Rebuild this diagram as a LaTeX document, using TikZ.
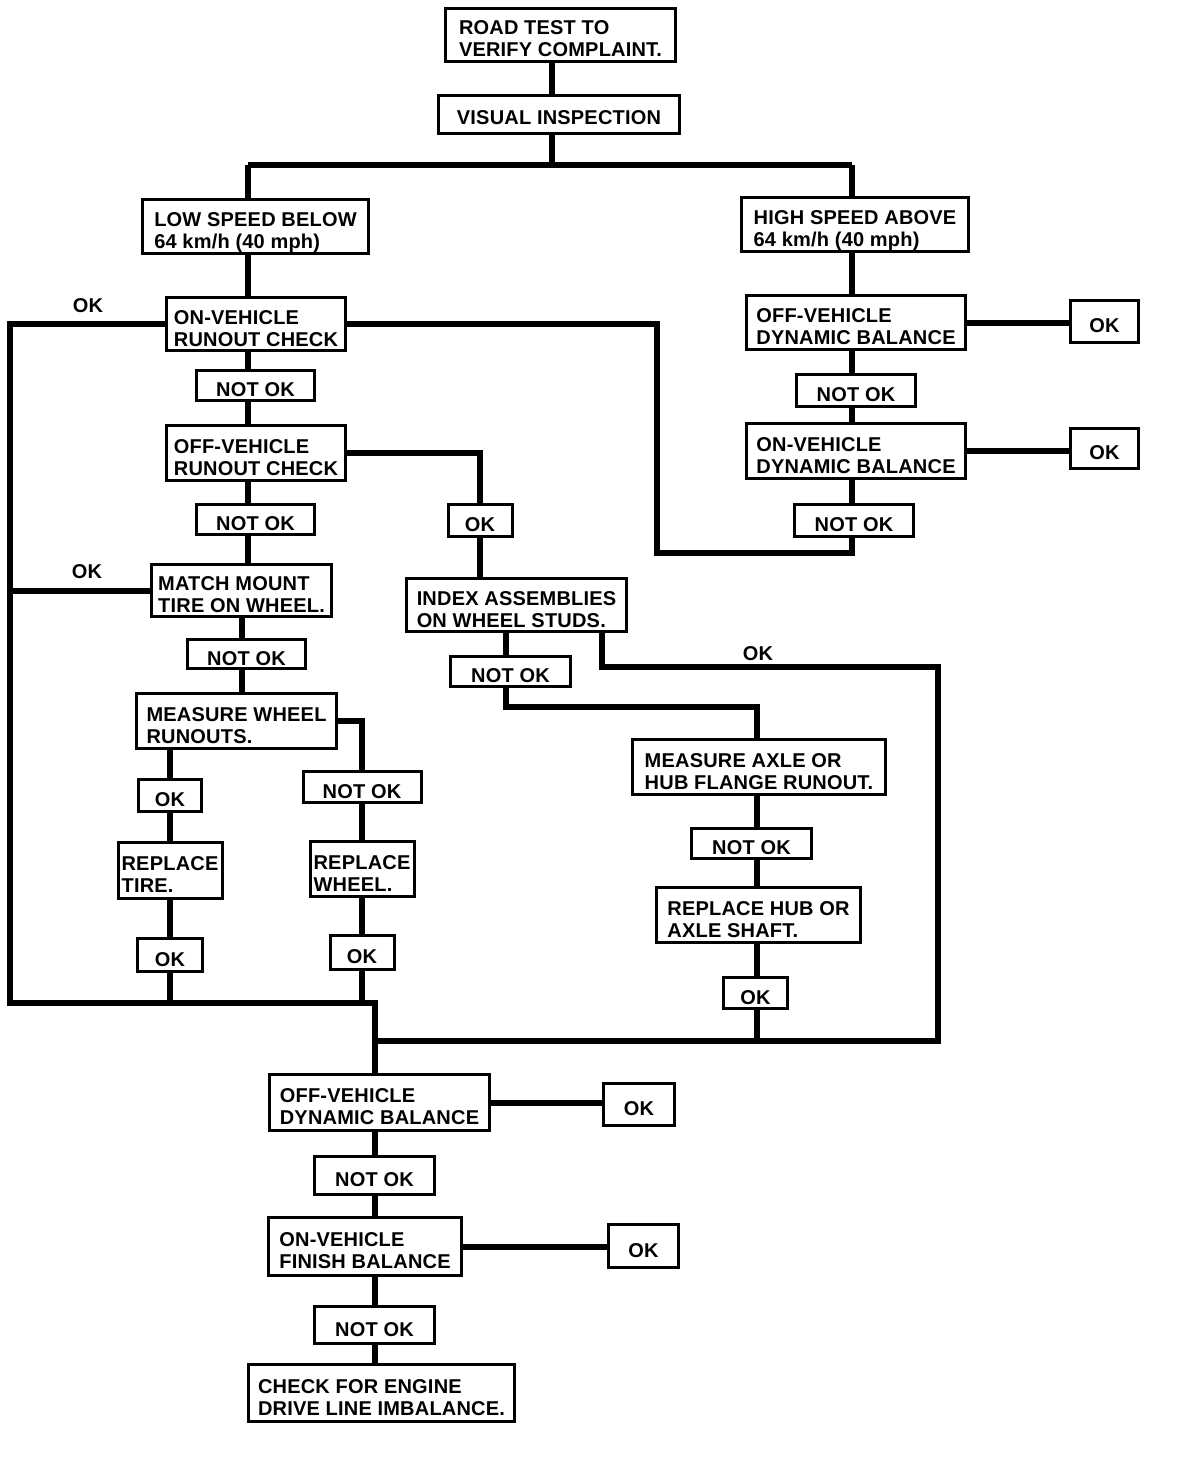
\documentclass[tikz,border=0pt]{standalone}
\usepackage{fontspec}
\setmainfont{Liberation Sans}[LetterSpace=1]
\usepackage{tikz}
\usetikzlibrary{positioning,calc}
\newcommand{\chartfont}{\fontsize{20}{22}\selectfont\bfseries}
\tikzset{
  check/.style={draw, line width=3pt, align=left, inner sep=0pt, fill=white, font=\chartfont,
    text height=46pt, text depth=2pt},
  result/.style={draw, line width=3pt, align=center, inner sep=0pt, fill=white, font=\chartfont,
    text height=22pt, text depth=0pt},
  note/.style={inner sep=0pt, font=\chartfont},
  flow/.style={line width=6pt},
}
\begin{document}
\begin{tikzpicture}[x=1pt,y=1pt]
  \path[fill=white] (0,0) rectangle (1184,-1472);

  % Top of the chart
  \node[check, minimum width=230pt, minimum height=53pt] (road)   at (560.5,-35)  {ROAD TEST TO\\VERIFY COMPLAINT.};
  \node[check, minimum width=241pt, minimum height=38pt, text height=20pt, text depth=0pt] (visual) at (559,-114.5) {VISUAL INSPECTION};
  \node[check, minimum width=226pt, minimum height=54pt] (low)    at (255.5,-226.5) {LOW SPEED BELOW\\64 km/h (40 mph)};
  \node[check, minimum width=227pt, minimum height=54pt] (high)   at (855,-224.5) {HIGH SPEED ABOVE\\64 km/h (40 mph)};

  % Low speed branch
  \node[check, minimum width=179pt, minimum height=53pt] (onrun)  at (256,-324)   {ON-VEHICLE\\RUNOUT CHECK};
  \node[result, minimum width=118pt, minimum height=30pt] (notok1) at (255.5,-385.5) {NOT OK};
  \node[check, minimum width=179pt, minimum height=55pt] (offrun) at (256,-453)   {OFF-VEHICLE\\RUNOUT CHECK};
  \node[result, minimum width=118pt, minimum height=30pt] (notok2) at (255.5,-519.5) {NOT OK};
  \node[check, minimum width=180pt, minimum height=52pt] (match)  at (241.5,-590.5) {MATCH MOUNT\\TIRE ON WHEEL.};
  \node[result, minimum width=118pt, minimum height=29pt] (notok3) at (246.5,-654) {NOT OK};
  \node[check, minimum width=200pt, minimum height=55pt] (wheel)  at (236.5,-721) {MEASURE WHEEL\\RUNOUTS.};
  \node[result, minimum width=63pt, minimum height=32pt] (oktire1) at (170,-795.5) {OK};
  \node[check, minimum width=104pt, minimum height=56pt] (tire)   at (170,-870.5) {REPLACE\\TIRE.};
  \node[result, minimum width=65pt, minimum height=33pt] (oktire2) at (170,-955)  {OK};
  \node[result, minimum width=118pt, minimum height=31pt] (notok4) at (362,-787)  {NOT OK};
  \node[check, minimum width=104pt, minimum height=55pt] (rim)    at (362,-869)   {REPLACE\\WHEEL.};
  \node[result, minimum width=64pt, minimum height=34pt] (okrim)  at (362,-952.5) {OK};

  % Index and hub branch
  \node[result, minimum width=64pt, minimum height=32pt] (okindex) at (480,-520.5) {OK};
  \node[check, minimum width=220pt, minimum height=53pt] (index)  at (516.5,-605) {INDEX ASSEMBLIES\\ON WHEEL STUDS.};
  \node[result, minimum width=120pt, minimum height=30pt] (notok5) at (510.5,-671.5) {NOT OK};
  \node[check, minimum width=253pt, minimum height=55pt] (axle)   at (759,-767)   {MEASURE AXLE OR\\HUB FLANGE RUNOUT.};
  \node[result, minimum width=120pt, minimum height=30pt] (notok6) at (751.5,-843.5) {NOT OK};
  \node[check, minimum width=204pt, minimum height=55pt] (hub)    at (758.5,-915) {REPLACE HUB OR\\AXLE SHAFT.};
  \node[result, minimum width=64pt, minimum height=31pt] (okhub)  at (755.5,-993) {OK};

  % High speed branch
  \node[check, minimum width=219pt, minimum height=54pt] (offdyn) at (856,-322.5) {OFF-VEHICLE\\DYNAMIC BALANCE};
  \node[result, minimum width=68pt, minimum height=42pt] (okoff)  at (1104.5,-321.5) {OK};
  \node[result, minimum width=119pt, minimum height=32pt] (notok9) at (856,-390.5) {NOT OK};
  \node[check, minimum width=219pt, minimum height=55pt] (ondyn)  at (856,-451)   {ON-VEHICLE\\DYNAMIC BALANCE};
  \node[result, minimum width=68pt, minimum height=40pt] (okon)   at (1104.5,-448.5) {OK};
  \node[result, minimum width=119pt, minimum height=32pt] (notok10) at (854,-520.5) {NOT OK};

  % Final balance
  \node[check, minimum width=220pt, minimum height=56pt] (offbal) at (379.5,-1102.5) {OFF-VEHICLE\\DYNAMIC BALANCE};
  \node[result, minimum width=71pt, minimum height=42pt] (okbal)  at (639,-1104.5) {OK};
  \node[result, minimum width=120pt, minimum height=38pt] (notok7) at (374.5,-1175.5) {NOT OK};
  \node[check, minimum width=193pt, minimum height=58pt] (finbal) at (365,-1246.5) {ON-VEHICLE\\FINISH BALANCE};
  \node[result, minimum width=70pt, minimum height=43pt] (okfin)  at (643.5,-1246) {OK};
  \node[result, minimum width=120pt, minimum height=37pt] (notok8) at (374.5,-1325) {NOT OK};
  \node[check, minimum width=266pt, minimum height=57pt] (engine) at (381.5,-1393) {CHECK FOR ENGINE\\DRIVE LINE IMBALANCE.};

  % Free labels
  \node[note] (okleft1) at (88,-306)  {OK};
  \node[note] (okleft2) at (87,-572)  {OK};
  \node[note] (okright) at (758,-654) {OK};

  % Junctions
  \coordinate (top)     at (552,-165);
  \coordinate (lowx)    at (248,-165);
  \coordinate (highx)   at (852,-165);
  \coordinate (matchx)  at (242,-640);
  \coordinate (corner)  at (10,-1003);
  \coordinate (merge)   at (375,-1003);
  \coordinate (back)    at (657,-553);
  \coordinate (idxok)   at (602,-667);
  \coordinate (ret)     at (938,-1041);
  \coordinate (hubx)    at (506,-707);
  \coordinate (axlex)   at (757,-707);

  % Connectors, top
  \draw[flow] (road.south -| top) -- (visual.north -| top);
  \draw[flow] (visual.south -| top) -- (top);
  \draw[flow] (lowx) -- (highx);
  \draw[flow] (lowx) -- (low.north -| lowx);
  \draw[flow] (highx) -- (high.north -| highx);

  % Connectors, low speed
  \draw[flow] (low.south -| lowx) -- (onrun.north -| lowx);
  \draw[flow] (onrun.south -| lowx) -- (notok1.north -| lowx);
  \draw[flow] (notok1.south -| lowx) -- (offrun.north -| lowx);
  \draw[flow] (offrun.south -| lowx) -- (notok2.north -| lowx);
  \draw[flow] (notok2.south -| lowx) -- (match.north -| lowx);
  \draw[flow] (match.south -| matchx) -- (notok3.north -| matchx);
  \draw[flow] (notok3.south -| matchx) -- (wheel.north -| matchx);
  \draw[flow] (wheel.south -| oktire1) -- (oktire1.north);
  \draw[flow] (oktire1) -- (tire);
  \draw[flow] (tire) -- (oktire2);
  \draw[flow] (oktire2.south) -- (oktire2.south |- merge);
  \draw[flow] (wheel.east) -| (notok4.north);
  \draw[flow] (notok4) -- (rim);
  \draw[flow] (rim) -- (okrim);
  \draw[flow] (okrim.south) -- (okrim.south |- merge);
  \draw[flow] (onrun.west) -| (corner) -- (merge) -- (merge |- offbal.north);
  \draw[flow] (match.west) -- (match.west -| corner);
  \draw[flow] (onrun.east) -| (back) -| (notok10.south -| highx);

  % Connectors, index and hub
  \draw[flow] (offrun.east) -| (okindex.north);
  \draw[flow] (okindex.south) -- (index.north -| okindex);
  \draw[flow] (index.south -| idxok) -- (idxok) -| (ret) -- (ret -| merge);
  \draw[flow] (index.south -| hubx) -- (notok5.north -| hubx);
  \draw[flow] (notok5.south -| hubx) -- (hubx) -- (axlex) -- (axle.north -| axlex);
  \draw[flow] (axle.south -| axlex) -- (notok6.north -| axlex);
  \draw[flow] (notok6.south -| axlex) -- (hub.north -| axlex);
  \draw[flow] (hub.south -| axlex) -- (okhub.north -| axlex);
  \draw[flow] (okhub.south -| axlex) -- (axlex |- ret);

  % Connectors, high speed
  \draw[flow] (high.south -| highx) -- (offdyn.north -| highx);
  \draw[flow] (offdyn.south -| highx) -- (notok9.north -| highx);
  \draw[flow] (notok9.south -| highx) -- (ondyn.north -| highx);
  \draw[flow] (ondyn.south -| highx) -- (notok10.north -| highx);
  \draw[flow] (offdyn.east) -- (offdyn.east -| okoff.west);
  \draw[flow] (ondyn.east) -- (ondyn.east -| okon.west);

  % Connectors, final balance
  \draw[flow] (offbal.south -| merge) -- (notok7.north -| merge);
  \draw[flow] (notok7.south -| merge) -- (finbal.north -| merge);
  \draw[flow] (finbal.south -| merge) -- (notok8.north -| merge);
  \draw[flow] (notok8.south -| merge) -- (engine.north -| merge);
  \draw[flow] (offbal.east) -- (offbal.east -| okbal.west);
  \draw[flow] (finbal.east) -- (finbal.east -| okfin.west);
\end{tikzpicture}
\end{document}
